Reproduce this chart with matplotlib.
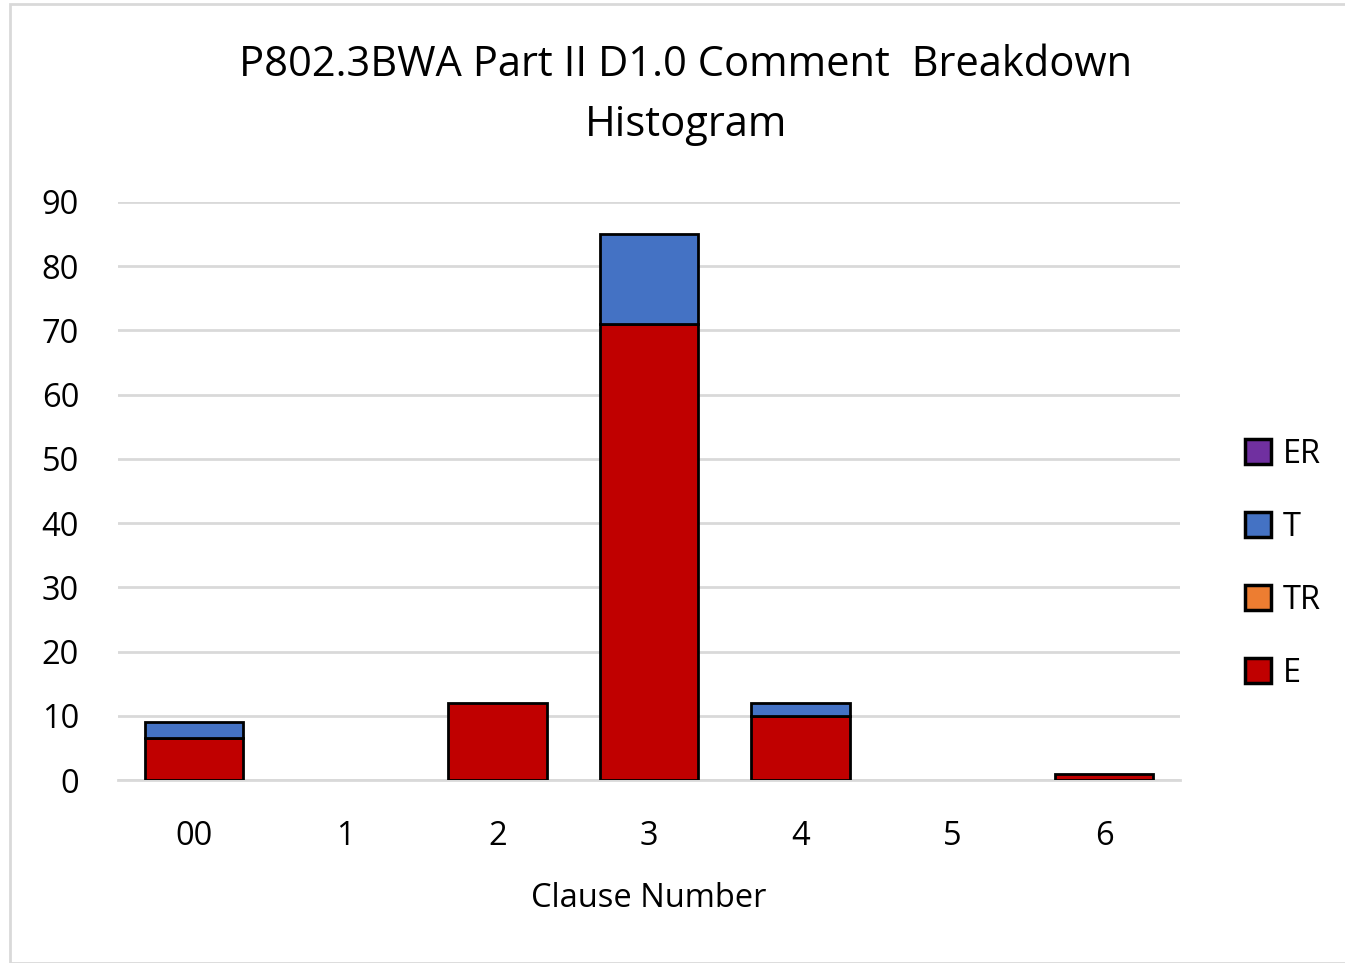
### Stacked comment breakdown histogram
import matplotlib
matplotlib.use('Agg')
import matplotlib.pyplot as pp
import numpy as np
from matplotlib.patches import Rectangle, Patch

### Data
clauses = ['00', '1', '2', '3', '4', '5', '6']
countE = [6.5, 0, 12, 71, 10, 0, 1]
countTR = [0, 0, 0, 0, 0, 0, 0]
countT = [2.5, 0, 0, 14, 2, 0, 0]
countER = [0, 0, 0, 0, 0, 0, 0]

colE = '#C00000'
colTR = '#ED7D31'
colT = '#4472C4'
colER = '#7030A0'

pp.rcParams['font.family'] = ['Open Sans', 'DejaVu Sans']

fig = pp.figure(figsize=(13.45, 9.63), dpi=100)
ax = fig.add_axes([118/1345, 1-780/963, 1062/1345, 578/963])

# figure border
fig.patches.append(Rectangle((10/1345, 0), 1, 1-4/963, transform=fig.transFigure,
                             fill=False, edgecolor='#D9D9D9', linewidth=2))

x = np.arange(len(clauses))
w = 0.65
bot = np.zeros(len(clauses))
for name, vals, col in [('E', countE, colE), ('TR', countTR, colTR),
                        ('T', countT, colT), ('ER', countER, colER)]:
    vals = np.array(vals, dtype=float)
    mask = vals > 0
    ax.bar(x[mask], vals[mask], bottom=bot[mask], width=w, color=col,
           edgecolor='black', linewidth=2, zorder=3, label=name)
    bot += vals

ax.set_xlim(-0.5, len(clauses)-0.5)
ax.set_ylim(0, 90)
ax.set_yticks(np.arange(0, 91, 10))
ax.set_xticks(x)
ax.set_xticklabels(clauses)
ax.tick_params(axis='y', length=0, labelsize=23.5, pad=28)
ax.tick_params(axis='x', length=0, labelsize=23.5, pad=29)
ax.grid(axis='y', color='#D9D9D9', linewidth=2, zorder=0)
for s in ['top', 'right', 'left']:
    ax.spines[s].set_visible(False)
ax.spines['bottom'].set_color('#D9D9D9')
ax.spines['bottom'].set_linewidth(2)
ax.set_axisbelow(True)

ax.set_xlabel('Clause Number', fontsize=23.5, labelpad=21)
fig.text(686/1345, 1-95/963, 'P802.3BWA Part II D1.0 Comment  Breakdown\nHistogram',
         ha='center', va='center', fontsize=30, linespacing=1.55)

leg_handles = [Patch(facecolor=c, edgecolor='black', linewidth=2.5)
               for c in [colER, colT, colTR, colE]]
fig.legend(leg_handles, ['ER', 'T', 'TR', 'E'], loc='center left',
           bbox_to_anchor=(1216/1345, 1-564/963), frameon=False, fontsize=23.5,
           labelspacing=1.22, handlelength=0.8, handleheight=0.8, handletextpad=0.35)

pp.savefig('out.png', dpi=100)
pp.close()
